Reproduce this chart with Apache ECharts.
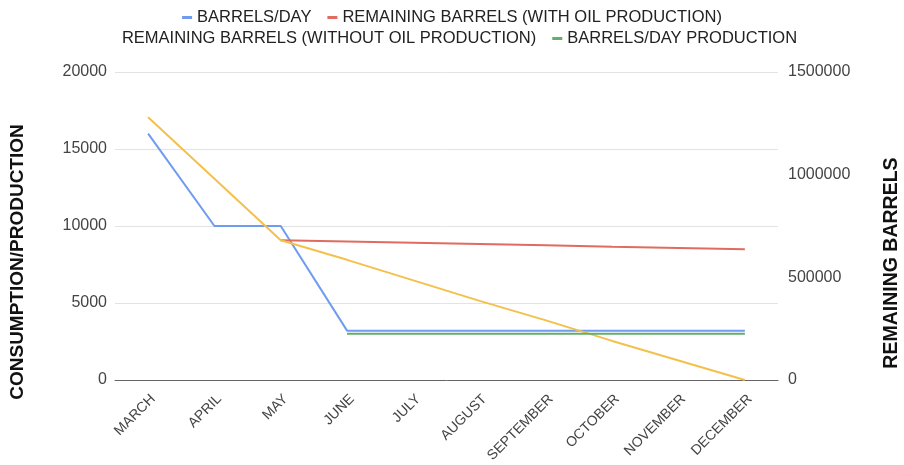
<!DOCTYPE html>
<html>
<head>
<meta charset="utf-8">
<script src="https://cdn.jsdelivr.net/npm/echarts@6/dist/echarts.min.js"></script>
<style>
  html, body { margin: 0; padding: 0; background: #fff; }
  #chart { width: 904px; height: 465px; }
</style>
</head>
<body>
<div id="chart"></div>
<script>
// Months on the category axis
const months = ['MARCH', 'APRIL', 'MAY', 'JUNE', 'JULY', 'AUGUST', 'SEPTEMBER', 'OCTOBER', 'NOVEMBER', 'DECEMBER'];

// Daily consumption and production (left axis)
const barrelsPerDay = [16000, 10000, 10000, 3200, 3200, 3200, 3200, 3200, 3200, 3200];
const barrelsPerDayProduction = [null, null, null, 3000, 3000, 3000, 3000, 3000, 3000, 3000];

// Stock of barrels (right axis)
const remainingWithProduction = [null, null, 680000, 674000, 668000, 662000, 656000, 649000, 643000, 637000];
const remainingWithoutProduction = [1280000, 980000, 680000, 585000, 485000, 385000, 290000, 190000, 95000, 0];

// Axis tick values
const leftTicks = [0, 5000, 10000, 15000, 20000];
const rightTicks = [0, 500000, 1000000, 1500000];

const names = {
  day: 'BARRELS/DAY',
  withProd: 'REMAINING BARRELS (WITH OIL PRODUCTION)',
  withoutProd: 'REMAINING BARRELS (WITHOUT OIL PRODUCTION)',
  prod: 'BARRELS/DAY PRODUCTION'
};

const colors = {
  day: '#6f9cf0',
  withProd: '#e06b60',
  withoutProd: '#f4c04c',
  prod: '#64ad6c'
};

const font = 'Liberation Sans, Arial, sans-serif';
const legendText = { fontFamily: font, fontSize: 16.5, color: '#222' };

const chart = echarts.init(document.getElementById('chart'), null, { renderer: 'canvas' });

function lineSeries(key, data, axisIndex) {
  return {
    name: names[key],
    type: 'line',
    yAxisIndex: axisIndex,
    data: data,
    showSymbol: false,
    symbol: 'none',
    connectNulls: false,
    lineStyle: { color: colors[key], width: 2 },
    itemStyle: { color: colors[key] },
    emphasis: { disabled: true },
    animation: false
  };
}

const plainNumber = v => String(v);

chart.setOption({
  backgroundColor: '#fff',
  animation: false,
  legend: [
    {
      top: 4,
      left: 'center',
      icon: 'rect',
      itemWidth: 10,
      itemHeight: 3,
      itemGap: 16,
      textStyle: legendText,
      data: [names.day, names.withProd]
    },
    {
      top: 25,
      left: 'center',
      icon: 'rect',
      itemWidth: 10,
      itemHeight: 3,
      itemGap: 16,
      textStyle: legendText,
      data: [
        { name: names.withoutProd, itemStyle: { opacity: 0 } },
        names.prod
      ]
    }
  ],
  grid: { left: 115, right: 126, top: 72, bottom: 82, containLabel: false },
  xAxis: {
    type: 'category',
    data: months,
    boundaryGap: true,
    axisLine: { lineStyle: { color: '#666', width: 1 } },
    axisTick: { show: false },
    axisLabel: {
      rotate: 45,
      interval: 0,
      fontFamily: font,
      fontSize: 14,
      color: '#444',
      margin: 12,
      verticalAlign: 'top'
    }
  },
  yAxis: [
    {
      type: 'value',
      min: leftTicks[0],
      max: leftTicks[leftTicks.length - 1],
      interval: leftTicks[1] - leftTicks[0],
      axisLine: { show: false },
      axisTick: { show: false },
      splitLine: { lineStyle: { color: '#e3e3e3', width: 1 } },
      axisLabel: { fontFamily: font, fontSize: 16, color: '#444', margin: 8, formatter: plainNumber }
    },
    {
      type: 'value',
      min: rightTicks[0],
      max: rightTicks[rightTicks.length - 1],
      interval: rightTicks[1] - rightTicks[0],
      axisLine: { show: false },
      axisTick: { show: false },
      splitLine: { show: false },
      axisLabel: { fontFamily: font, fontSize: 16, color: '#444', margin: 10, formatter: plainNumber }
    }
  ],
  graphic: [
    {
      type: 'text',
      x: 18,
      y: 262,
      rotation: Math.PI / 2,
      style: {
        text: 'CONSUMPTION/PRODUCTION',
        fontFamily: font,
        fontWeight: 'bold',
        fontSize: 19,
        fill: '#111',
        align: 'center',
        verticalAlign: 'middle'
      }
    },
    {
      type: 'text',
      x: 892,
      y: 263,
      rotation: Math.PI / 2,
      style: {
        text: 'REMAINING BARRELS',
        fontFamily: font,
        fontWeight: 'bold',
        fontSize: 19.5,
        fill: '#111',
        align: 'center',
        verticalAlign: 'middle'
      }
    }
  ],
  series: [
    lineSeries('day', barrelsPerDay, 0),
    lineSeries('withProd', remainingWithProduction, 1),
    lineSeries('withoutProd', remainingWithoutProduction, 1),
    lineSeries('prod', barrelsPerDayProduction, 0)
  ]
});
</script>
</body>
</html>
